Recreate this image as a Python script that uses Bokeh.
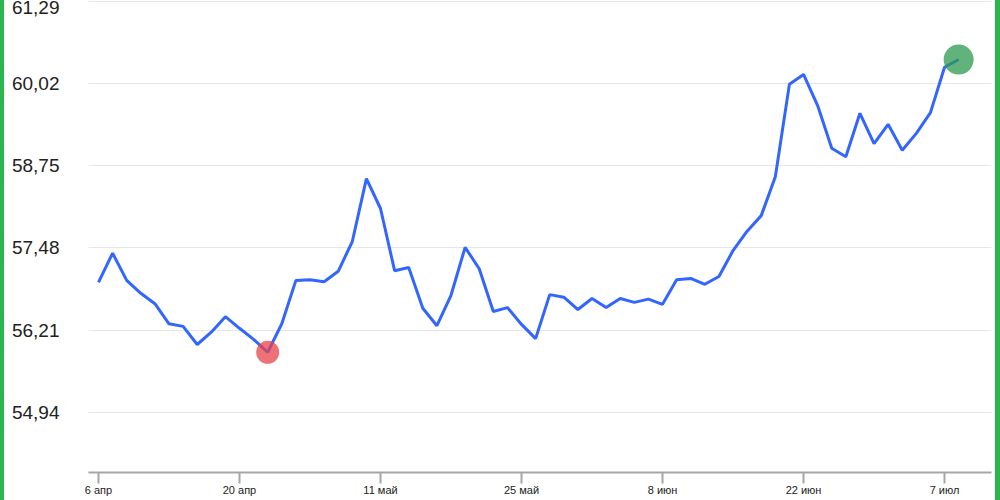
from bokeh.plotting import figure
from bokeh.models import FixedTicker, CustomJSTickFormatter, Range1d, BoxAnnotation
from bokeh.embed import file_html
from bokeh.resources import INLINE

# ---- data ----
values = [56.95, 57.40, 56.98, 56.78, 56.62, 56.31, 56.27, 55.99, 56.18, 56.42,
          56.24, 56.07, 55.87, 56.31, 56.98, 56.99, 56.96, 57.12, 57.58, 58.55,
          58.09, 57.13, 57.18, 56.55, 56.28, 56.75, 57.49, 57.16, 56.50, 56.56,
          56.30, 56.08, 56.76, 56.72, 56.53, 56.70, 56.56, 56.70, 56.64, 56.69,
          56.61, 56.99, 57.01, 56.92, 57.04, 57.44, 57.74, 57.98, 58.58, 60.01,
          60.16, 59.68, 59.02, 58.89, 59.56, 59.09, 59.39, 58.99, 59.25, 59.57,
          60.27, 60.39]
idx = list(range(len(values)))

x_tick_pos = [0, 10, 20, 30, 40, 50, 60]
x_tick_labels = ["6 апр", "20 апр", "11 май", "25 май", "8 июн", "22 июн", "7 июл"]
y_ticks = [54.94, 56.21, 57.48, 58.75, 60.02, 61.29]

FONT = "Liberation Sans"
AXIS_GREY = "#a6a6a6"

p = figure(width=1000, height=500, output_backend="svg", toolbar_location=None,
           x_range=Range1d(-0.709, 63.33), y_range=Range1d(54.0135, 61.3016),
           min_border_left=88, min_border_right=9, min_border_top=0, min_border_bottom=28,
           border_fill_color=None, background_fill_color=None, outline_line_color=None,
           styles={"position": "fixed", "left": "0px", "top": "0px",
                   "background": "#ffffff",
                   "box-shadow": "inset 4px 0 0 #2bb54f, inset -5px 0 0 #2bb54f"})

# grid
p.xgrid.visible = False
p.ygrid.grid_line_color = "#e6e6e6"
p.ygrid.grid_line_width = 1

# y axis
ya = p.yaxis[0]
ya.ticker = FixedTicker(ticks=y_ticks)
ya.formatter = CustomJSTickFormatter(code="return tick.toFixed(2).replace('.', ',');")
ya.axis_line_color = None
ya.major_tick_line_color = None
ya.minor_tick_line_color = None
ya.major_tick_out = 0
ya.major_tick_in = 0
ya.minor_tick_out = 0
ya.minor_tick_in = 0
ya.major_label_standoff = 29
ya.major_label_text_font = FONT
ya.major_label_text_font_size = "19px"
ya.major_label_text_color = "#222222"

# x axis
xa = p.xaxis[0]
xa.ticker = FixedTicker(ticks=x_tick_pos)
xa.major_label_overrides = {k: v for k, v in zip(x_tick_pos, x_tick_labels)}
xa.axis_line_color = AXIS_GREY
xa.axis_line_width = 2
xa.major_tick_line_color = AXIS_GREY
xa.major_tick_line_width = 2
xa.major_tick_out = 11
xa.major_tick_in = 0
xa.minor_tick_line_color = None
xa.minor_tick_out = 0
xa.minor_tick_in = 0
xa.major_label_standoff = 0
xa.major_label_text_font = FONT
xa.major_label_text_font_size = "11px"
xa.major_label_text_color = "#222222"

# baseline continues to the left under the value labels (canvas coordinates)
p.add_layout(BoxAnnotation(left=12, right=88, top=471, bottom=473,
                           left_units="canvas", right_units="canvas",
                           bottom_units="canvas", top_units="canvas",
                           fill_color=AXIS_GREY, fill_alpha=1.0, line_color=None))

# line
p.line(idx, values, line_color="#3366ff", line_width=3)

# min / max markers
imin = values.index(min(values))
imax = values.index(max(values))
p.scatter([idx[imin]], [values[imin]], size=23, fill_color="#e8424a", fill_alpha=0.75,
          line_color=None)
p.scatter([idx[imax]], [values[imax]], size=30, fill_color="#2e9a4f", fill_alpha=0.75,
          line_color=None)

open("out.html", "w").write(file_html(p, INLINE))
